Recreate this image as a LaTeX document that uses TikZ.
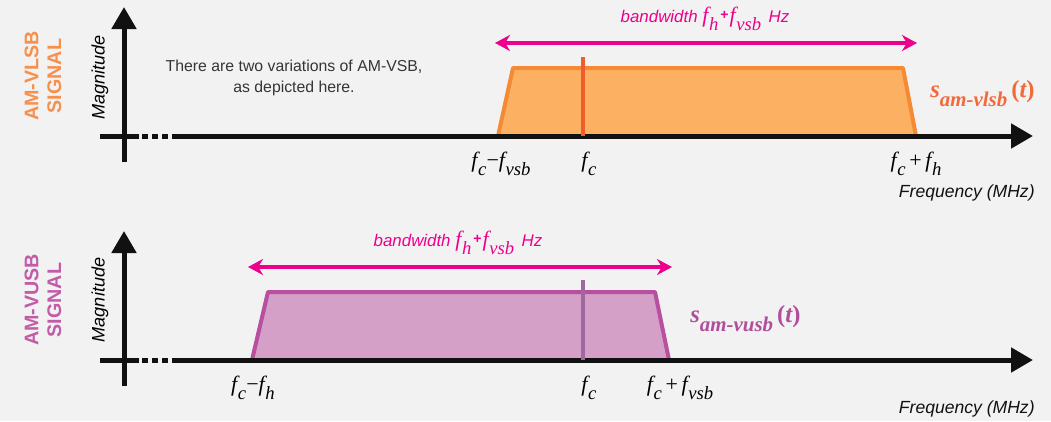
\documentclass[tikz,border=0pt]{standalone}
\usepackage{fontspec}
\setmainfont{Liberation Sans}
\newfontfamily\tnr{Liberation Serif}
\usepackage{graphicx}
\usetikzlibrary{arrows.meta}
\usepackage{xcolor}
\definecolor{bgray}{HTML}{F2F2F2}
\definecolor{axisblack}{HTML}{111111}
\definecolor{bwpink}{HTML}{EC008C}
\definecolor{lsbfill}{HTML}{FBB062}
\definecolor{lsbline}{HTML}{F58A35}
\definecolor{lsbcarrier}{HTML}{F15D2A}
\definecolor{lsbtext}{HTML}{F26A3A}
\definecolor{lsbtitle}{HTML}{F6904D}
\definecolor{usbfill}{HTML}{D5A0C8}
\definecolor{usbline}{HTML}{B8509F}
\definecolor{usbcarrier}{HTML}{A0689E}
\definecolor{usbtext}{HTML}{B04E9C}
\definecolor{usbtitle}{HTML}{C25BA8}

% italic letter with a low, large subscript (Times-like)
\newcommand{\lowsub}[1]{\raisebox{-0.4em}{\scalebox{0.85}{#1}}}
\newcommand{\fq}[1]{{\tnr\itshape f\kern0.03em\lowsub{#1}}}

\tikzset{
  axisline/.style={line width=0.1cm, axisblack},
  axisarrow/.style={axisline, -{Triangle[length=0.44cm,width=0.48cm]}},
  bwarrow/.style={bwpink, line width=0.07cm, {Stealth[length=0.3cm,width=0.32cm]}-{Stealth[length=0.3cm,width=0.32cm]}},
  bwlabel/.style={bwpink, anchor=base, inner sep=0pt, font=\fontsize{9.6}{11}\selectfont\itshape},
  ticklabel/.style={anchor=base, inner sep=0pt, font=\fontsize{12.5}{15}\selectfont},
  freqlabel/.style={anchor=base east, inner sep=0pt, axisblack, font=\fontsize{10}{12}\selectfont\itshape},
  maglabel/.style={rotate=90, font=\fontsize{10.3}{12}\selectfont\itshape},
  sigtitle/.style={rotate=90, align=center, font=\fontsize{11.2}{13}\selectfont\bfseries},
  siglabel/.style={anchor=base west, inner sep=0pt, font=\fontsize{14}{17}\selectfont\tnr\bfseries}
}

\newcommand{\bwtext}{bandwidth {\fontsize{12.5}{12}\selectfont\fq{h}}\kern0.12em{\bfseries\upshape\fontsize{8}{8}\selectfont\raisebox{0.15em}{+}}\kern0.05em{\fontsize{12.5}{12}\selectfont\fq{vsb}}\, Hz}

\begin{document}
\begin{tikzpicture}
  \useasboundingbox[fill=bgray] (0,0) rectangle (21.02,8.42);

  % ---------- AM-VLSB ----------
  \coordinate (lsbstart) at (2.0,5.70);
  \coordinate (lsbend) at (20.66,5.70);
  \coordinate (lsbbot) at (2.48,5.18);
  \coordinate (lsbtop) at (2.48,8.28);
  \draw[axisline] (lsbstart) -- (2.78,5.70);
  \foreach \x in {2.84,3.04,3.24}
    \draw[axisline] (\x,5.70) -- ++(0.12,0);
  \draw[axisarrow] (3.44,5.70) -- (lsbend);
  \draw[axisarrow] (lsbbot) -- (lsbtop);

  \filldraw[fill=lsbfill, draw=lsbline, line width=0.08cm, line join=round]
    (9.96,5.70) -- (10.26,7.06) -- (18.06,7.06) -- (18.32,5.70) -- cycle;
  \draw[axisline] (9.9,5.70) -- (18.4,5.70);
  \draw[lsbcarrier, line width=0.08cm] (11.66,5.70) -- (11.66,7.28);

  \coordinate (lsbbwl) at (9.9,7.56);
  \coordinate (lsbbwr) at (18.34,7.56);
  \draw[bwarrow] (lsbbwl) -- (lsbbwr);
  \node[bwlabel] (lsbbw) at (14.1,7.98) {\bwtext};

  \node[siglabel, lsbtext] (lsbsig) at (18.6,6.48)
    {\itshape s\lowsub{am-vlsb}\,\upshape(\itshape t\upshape)};

  \node[ticklabel] (lsblo) at (10.02,5.08) {\fq{c}{\tnr−}\fq{vsb}};
  \node[ticklabel] (lsbfc) at (11.78,5.08) {\fq{c}};
  \node[ticklabel] (lsbhi) at (18.32,5.08) {\fq{c}{\tnr\,+\,}\fq{h}};
  \node[freqlabel] (lsbfreq) at (20.7,4.48) {Frequency (MHz)};

  \node[maglabel] (lsbmag) at (2.0,6.87) {Magnitude};
  \node[sigtitle, lsbtitle] (lsbtitle) at (0.86,6.9) {AM-VLSB\\SIGNAL};
  \node[align=center, font=\fontsize{9}{11.5}\selectfont, text=axisblack!85] (note) at (5.88,6.86)
    {There are two variations of AM-VSB,\\as depicted here.};

  % ---------- AM-VUSB ----------
  \coordinate (usbstart) at (2.0,1.22);
  \coordinate (usbend) at (20.66,1.22);
  \coordinate (usbbot) at (2.48,0.70);
  \coordinate (usbtop) at (2.48,3.80);
  \draw[axisline] (usbstart) -- (2.78,1.22);
  \foreach \x in {2.84,3.04,3.24}
    \draw[axisline] (\x,1.22) -- ++(0.12,0);
  \draw[axisarrow] (3.44,1.22) -- (usbend);
  \draw[axisarrow] (usbbot) -- (usbtop);

  \filldraw[fill=usbfill, draw=usbline, line width=0.08cm, line join=round]
    (5.04,1.22) -- (5.36,2.58) -- (13.1,2.58) -- (13.38,1.22) -- cycle;
  \draw[axisline] (5.0,1.22) -- (13.45,1.22);
  \draw[usbcarrier, line width=0.08cm] (11.66,1.22) -- (11.66,2.82);

  \coordinate (usbbwl) at (4.96,3.08);
  \coordinate (usbbwr) at (13.44,3.08);
  \draw[bwarrow] (usbbwl) -- (usbbwr);
  \node[bwlabel] (usbbw) at (9.16,3.5) {\bwtext};

  \node[siglabel, usbtext] (usbsig) at (13.8,1.98)
    {\itshape s\lowsub{am-vusb}\,\upshape(\itshape t\upshape)};

  \node[ticklabel] (usblo) at (5.06,0.6) {\fq{c}{\tnr−}\fq{h}};
  \node[ticklabel] (usbfc) at (11.78,0.6) {\fq{c}};
  \node[ticklabel] (usbhi) at (13.6,0.6) {\fq{c}{\tnr\,+\,}\fq{vsb}};
  \node[freqlabel] (usbfreq) at (20.7,0.16) {Frequency (MHz)};

  \node[maglabel] (usbmag) at (2.0,2.42) {Magnitude};
  \node[sigtitle, usbtitle] (usbtitle) at (0.86,2.42) {AM-VUSB\\SIGNAL};
\end{tikzpicture}
\end{document}
